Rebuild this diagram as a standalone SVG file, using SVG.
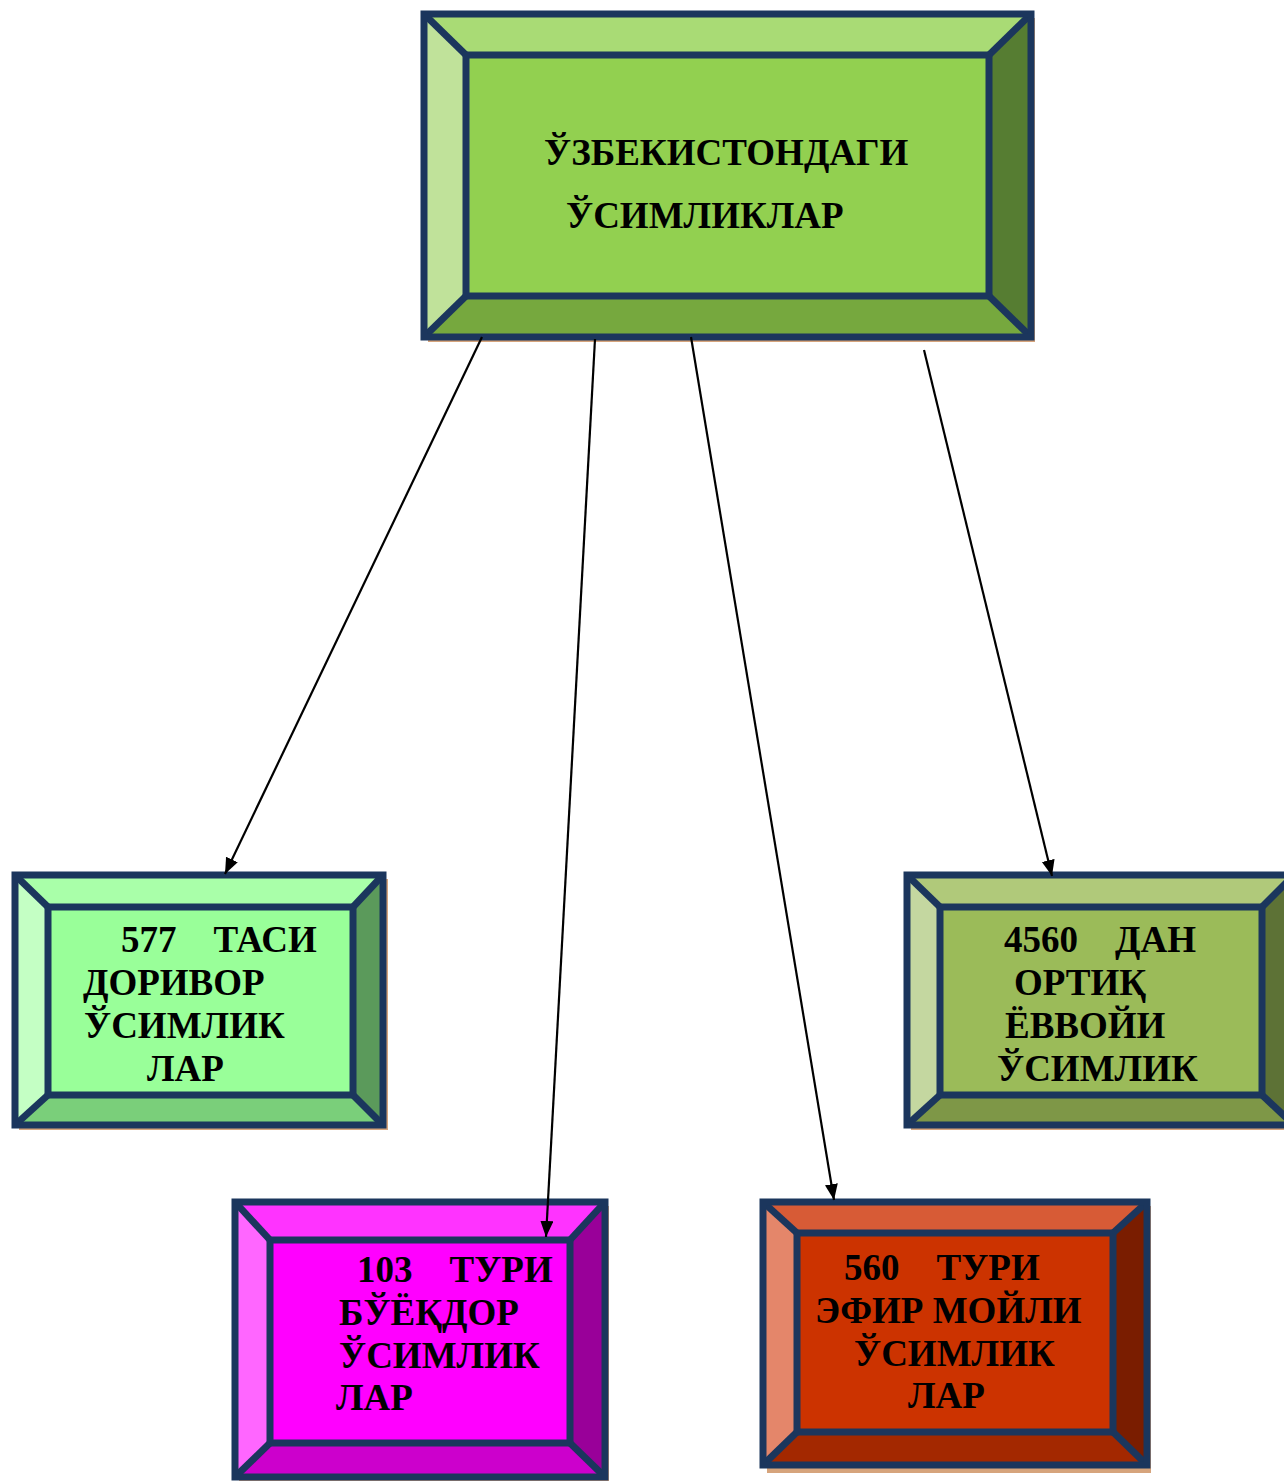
<svg xmlns="http://www.w3.org/2000/svg" width="1284" height="1481" viewBox="0 0 1284 1481">
  <defs>
    <marker id="arrow" markerUnits="userSpaceOnUse" markerWidth="17" markerHeight="14" refX="16" refY="6.5" orient="auto">
      <path d="M0,0 L16,6.5 L0,13 Z" fill="#000"/>
    </marker>
  </defs>
  <style>
    .shadow { fill: #D6A47C; }
    .edge { fill: none; stroke: #1B365D; stroke-width: 7; stroke-linejoin: miter; }
    .diag { stroke: #1B365D; stroke-width: 7; }
    .lbl { font-family: "Liberation Serif", "Times New Roman", serif; font-weight: bold; font-size: 37px; fill: #000; }
    .conn { stroke: #000; stroke-width: 2.2; fill: none; marker-end: url(#arrow); }
  </style>
  <rect width="1284" height="1481" fill="#fff"/>

  <!-- main node -->
  <g id="node-root">
    <rect class="shadow" x="428" y="18" width="607" height="324"/>
    <polygon points="424,14 1031,14 989,55 466,55" fill="#A9DB75"/>
    <polygon points="424,14 466,55 466,296 424,337" fill="#C0E29A"/>
    <polygon points="1031,14 1031,337 989,296 989,55" fill="#567D32"/>
    <polygon points="424,337 466,296 989,296 1031,337" fill="#76A83E"/>
    <rect x="466" y="55" width="523" height="241" fill="#92D050"/>
    <line class="diag" x1="424" y1="14" x2="466" y2="55"/>
    <line class="diag" x1="1031" y1="14" x2="989" y2="55"/>
    <line class="diag" x1="424" y1="337" x2="466" y2="296"/>
    <line class="diag" x1="1031" y1="337" x2="989" y2="296"/>
    <rect class="edge" x="466" y="55" width="523" height="241"/>
    <rect class="edge" x="424" y="14" width="607" height="323"/>
    <text class="lbl" x="544" y="165">ЎЗБЕКИСТОНДАГИ</text>
    <text class="lbl" x="566" y="228">ЎСИМЛИКЛАР</text>
  </g>

  <!-- medicinal plants -->
  <g id="node-medicinal">
    <rect class="shadow" x="19" y="879" width="369" height="251"/>
    <polygon points="15,875 383,875 353,907 48,907" fill="#A9FFA9"/>
    <polygon points="15,875 48,907 48,1095 15,1125" fill="#C4FFC4"/>
    <polygon points="383,875 383,1125 353,1095 353,907" fill="#5B9A5B"/>
    <polygon points="15,1125 48,1095 353,1095 383,1125" fill="#7ACF7A"/>
    <rect x="48" y="907" width="305" height="188" fill="#99FF99"/>
    <line class="diag" x1="15" y1="875" x2="48" y2="907"/>
    <line class="diag" x1="383" y1="875" x2="353" y2="907"/>
    <line class="diag" x1="15" y1="1125" x2="48" y2="1095"/>
    <line class="diag" x1="383" y1="1125" x2="353" y2="1095"/>
    <rect class="edge" x="48" y="907" width="305" height="188"/>
    <rect class="edge" x="15" y="875" width="368" height="250"/>
    <text class="lbl" x="121" y="952" xml:space="preserve">577    ТАСИ</text>
    <text class="lbl" x="83" y="995">ДОРИВОР</text>
    <text class="lbl" x="84" y="1038">ЎСИМЛИК</text>
    <text class="lbl" x="147" y="1081">ЛАР</text>
  </g>

  <!-- wild plants -->
  <g id="node-wild">
    <rect class="shadow" x="911" y="879" width="385" height="251"/>
    <polygon points="907,875 1294,875 1262,907 940,907" fill="#B0C97A"/>
    <polygon points="907,875 940,907 940,1095 907,1125" fill="#C4D7A0"/>
    <polygon points="1294,875 1294,1125 1262,1095 1262,907" fill="#5D7236"/>
    <polygon points="907,1125 940,1095 1262,1095 1294,1125" fill="#7E9747"/>
    <rect x="940" y="907" width="322" height="188" fill="#9BBB59"/>
    <line class="diag" x1="907" y1="875" x2="940" y2="907"/>
    <line class="diag" x1="1294" y1="875" x2="1262" y2="907"/>
    <line class="diag" x1="907" y1="1125" x2="940" y2="1095"/>
    <line class="diag" x1="1294" y1="1125" x2="1262" y2="1095"/>
    <rect class="edge" x="940" y="907" width="322" height="188"/>
    <rect class="edge" x="907" y="875" width="387" height="250"/>
    <text class="lbl" x="1004" y="952" xml:space="preserve">4560    ДАН</text>
    <text class="lbl" x="1014" y="995">ОРТИҚ</text>
    <text class="lbl" x="1005" y="1038">ЁВВОЙИ</text>
    <text class="lbl" x="997" y="1081">ЎСИМЛИК</text>
  </g>

  <!-- dye plants -->
  <g id="node-dye">
    <rect class="shadow" x="239" y="1206" width="370" height="275"/>
    <polygon points="235,1202 605,1202 570,1240 270,1240" fill="#FF33FF"/>
    <polygon points="235,1202 270,1240 270,1443 235,1477" fill="#FF66FF"/>
    <polygon points="605,1202 605,1477 570,1443 570,1240" fill="#990099"/>
    <polygon points="235,1477 270,1443 570,1443 605,1477" fill="#CC00CC"/>
    <rect x="270" y="1240" width="300" height="203" fill="#FF00FF"/>
    <line class="diag" x1="235" y1="1202" x2="270" y2="1240"/>
    <line class="diag" x1="605" y1="1202" x2="570" y2="1240"/>
    <line class="diag" x1="235" y1="1477" x2="270" y2="1443"/>
    <line class="diag" x1="605" y1="1477" x2="570" y2="1443"/>
    <rect class="edge" x="270" y="1240" width="300" height="203"/>
    <rect class="edge" x="235" y="1202" width="370" height="275"/>
    <text class="lbl" x="357" y="1282" xml:space="preserve">103    ТУРИ</text>
    <text class="lbl" x="339" y="1325">БЎЁҚДОР</text>
    <text class="lbl" x="339" y="1368">ЎСИМЛИК</text>
    <text class="lbl" x="336" y="1410">ЛАР</text>
  </g>

  <!-- essential oil plants -->
  <g id="node-oil">
    <rect class="shadow" x="767" y="1206" width="384" height="267"/>
    <polygon points="763,1202 1147,1202 1113,1233 797,1233" fill="#D75B36"/>
    <polygon points="763,1202 797,1233 797,1432 763,1465" fill="#E4866A"/>
    <polygon points="1147,1202 1147,1465 1113,1432 1113,1233" fill="#7A1D00"/>
    <polygon points="763,1465 797,1432 1113,1432 1147,1465" fill="#A32800"/>
    <rect x="797" y="1233" width="316" height="199" fill="#CC3300"/>
    <line class="diag" x1="763" y1="1202" x2="797" y2="1233"/>
    <line class="diag" x1="1147" y1="1202" x2="1113" y2="1233"/>
    <line class="diag" x1="763" y1="1465" x2="797" y2="1432"/>
    <line class="diag" x1="1147" y1="1465" x2="1113" y2="1432"/>
    <rect class="edge" x="797" y="1233" width="316" height="199"/>
    <rect class="edge" x="763" y="1202" width="384" height="263"/>
    <text class="lbl" x="844" y="1280" xml:space="preserve">560    ТУРИ</text>
    <text class="lbl" x="815" y="1323">ЭФИР МОЙЛИ</text>
    <text class="lbl" x="854" y="1366">ЎСИМЛИК</text>
    <text class="lbl" x="908" y="1408">ЛАР</text>
  </g>

  <!-- connectors -->
  <g id="connectors">
    <line class="conn" x1="482" y1="337" x2="225" y2="874"/>
    <line class="conn" x1="595" y1="339" x2="546" y2="1237"/>
    <line class="conn" x1="691" y1="337" x2="834" y2="1200"/>
    <line class="conn" x1="924" y1="350" x2="1052" y2="876"/>
  </g>
</svg>
